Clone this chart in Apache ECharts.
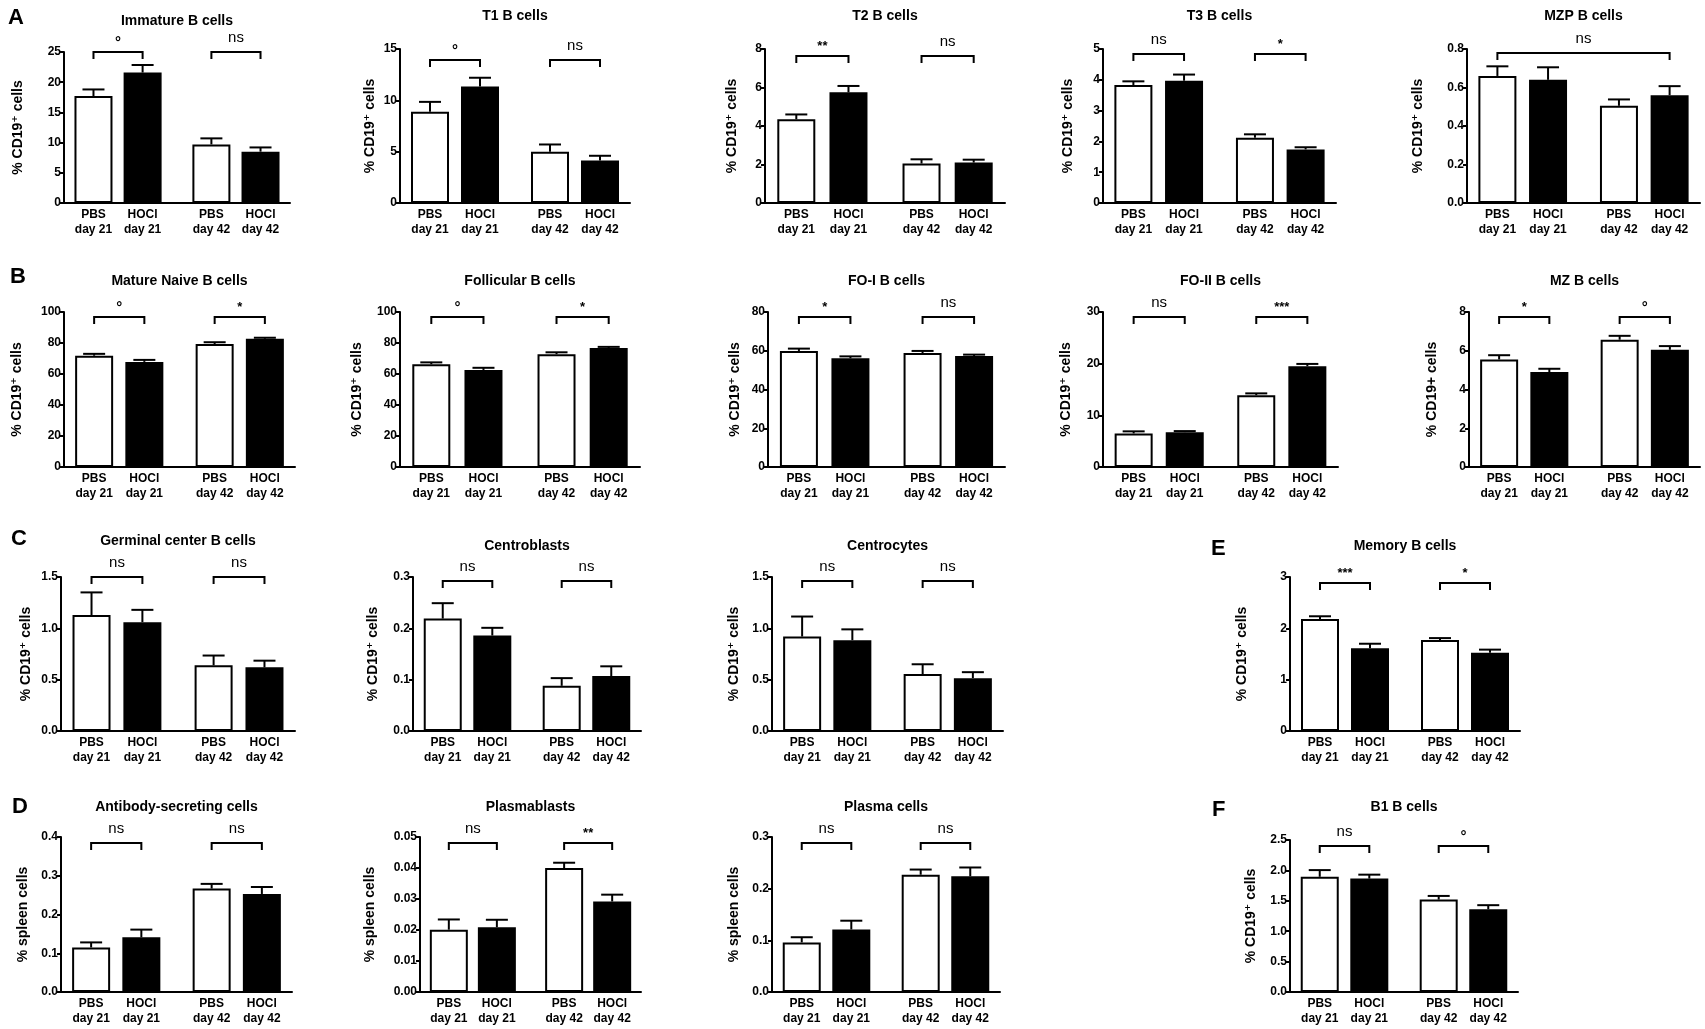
<!DOCTYPE html>
<html><head><meta charset="utf-8">
<script src="https://cdn.jsdelivr.net/npm/echarts@6/dist/echarts.min.js"></script>
<style>html,body{margin:0;padding:0;background:#fff}#c{width:1705px;height:1029px}</style>
</head><body><div id="c"></div>
<script>
// ---------------- DATA ----------------
const categories = ['PBS\nday 21', 'HOCl\nday 21', 'PBS\nday 42', 'HOCl\nday 42'];

const immatureMean = [17.7, 21.6, 9.7, 8.5];
const immatureSem  = [1.1, 1.25, 1.0, 0.7];
const immatureSig  = ['°', 'ns'];

const t1Mean = [8.9, 11.35, 5.0, 4.15];
const t1Sem  = [0.95, 0.85, 0.7, 0.45];
const t1Sig  = ['°', 'ns'];

const t2Mean = [4.35, 5.75, 2.05, 2.1];
const t2Sem  = [0.25, 0.33, 0.22, 0.15];
const t2Sig  = ['**', 'ns'];

const t3Mean = [3.83, 3.97, 2.12, 1.74];
const t3Sem  = [0.12, 0.2, 0.11, 0.07];
const t3Sig  = ['ns', '*'];

const mzpMean = [0.66, 0.64, 0.505, 0.56];
const mzpSem  = [0.05, 0.065, 0.033, 0.047];
const mzpSig  = ['ns'];

const matureMean = [71.8, 67.8, 79.3, 82.7];
const matureSem  = [1.2, 1.3, 1.2, 0.7];
const matureSig  = ['°', '*'];

const follicularMean = [66.3, 62.6, 72.8, 76.7];
const follicularSem  = [1.2, 1.4, 1.2, 0.8];
const follicularSig  = ['°', '*'];

const fo1Mean = [59.9, 56.1, 58.8, 57.3];
const fo1Sem  = [1.2, 1.0, 1.1, 0.7];
const fo1Sig  = ['*', 'ns'];

const fo2Mean = [6.5, 6.75, 13.9, 19.5];
const fo2Sem  = [0.4, 0.2, 0.35, 0.45];
const fo2Sig  = ['ns', '***'];

const mzMean = [5.55, 4.9, 6.57, 6.05];
const mzSem  = [0.22, 0.17, 0.2, 0.19];
const mzSig  = ['*', '°'];

const germinalMean = [1.13, 1.06, 0.64, 0.62];
const germinalSem  = [0.22, 0.12, 0.095, 0.065];
const germinalSig  = ['ns', 'ns'];

const centroblastMean = [0.219, 0.186, 0.088, 0.107];
const centroblastSem  = [0.03, 0.015, 0.015, 0.019];
const centroblastSig  = ['ns', 'ns'];

const centrocyteMean = [0.92, 0.885, 0.555, 0.515];
const centrocyteSem  = [0.195, 0.105, 0.095, 0.058];
const centrocyteSig  = ['ns', 'ns'];

const ascMean = [0.115, 0.141, 0.267, 0.253];
const ascSem  = [0.013, 0.02, 0.012, 0.018];
const ascSig  = ['ns', 'ns'];

const plasmablastMean = [0.0201, 0.0209, 0.0400, 0.0292];
const plasmablastSem  = [0.0033, 0.0024, 0.0017, 0.0022];
const plasmablastSig  = ['ns', '**'];

const plasmaMean = [0.096, 0.121, 0.227, 0.224];
const plasmaSem  = [0.01, 0.017, 0.01, 0.017];
const plasmaSig  = ['ns', 'ns'];

const memoryMean = [2.18, 1.61, 1.775, 1.525];
const memorySem  = [0.055, 0.09, 0.035, 0.06];
const memorySig  = ['***', '*'];

const b1Mean = [1.895, 1.865, 1.52, 1.36];
const b1Sem  = [0.11, 0.065, 0.06, 0.068];
const b1Sig  = ['ns', '°'];

// ---------------- LAYOUT ----------------
const XPOS = [1, 2, 3.4, 4.4];
const FONT = '"Liberation Sans", Arial, "DejaVu Sans", sans-serif';
const CD19 = '% CD19⁺ cells';
const PAIRS2 = [[0, 1], [2, 3]];

const panels = [
  {title:'Immature B cells', m:immatureMean, e:immatureSem, s:immatureSig, L:64, R:290, T:52, B:203, ty:21, yn:CD19, ng:39, max:25, iv:5, dec:0, bo:0, pairs:PAIRS2},
  {title:'T1 B cells', m:t1Mean, e:t1Sem, s:t1Sig, L:400, R:630, T:49, B:203, ty:16, yn:CD19, ng:23, max:15, iv:5, dec:0, bo:11, pairs:PAIRS2},
  {title:'T2 B cells', m:t2Mean, e:t2Sem, s:t2Sig, L:765, R:1005, T:49, B:203, ty:16, yn:CD19, ng:26, max:8, iv:2, dec:0, bo:7, pairs:PAIRS2},
  {title:'T3 B cells', m:t3Mean, e:t3Sem, s:t3Sig, L:1103, R:1336, T:49, B:203, ty:16, yn:CD19, ng:28, max:5, iv:1, dec:0, bo:5, pairs:PAIRS2},
  {title:'MZP B cells', m:mzpMean, e:mzpSem, s:mzpSig, L:1467, R:1700, T:49, B:203, ty:16, yn:CD19, ng:42, max:0.8, iv:0.2, dec:1, bo:4, pairs:[[0, 3]]},

  {title:'Mature Naive B cells', m:matureMean, e:matureSem, s:matureSig, L:64, R:295, T:312, B:467, ty:281, yn:CD19, ng:40, max:100, iv:20, dec:0, bo:5, pairs:PAIRS2},
  {title:'Follicular B cells', m:follicularMean, e:follicularSem, s:follicularSig, L:400, R:640, T:312, B:467, ty:281, yn:CD19, ng:36, max:100, iv:20, dec:0, bo:5, pairs:PAIRS2},
  {title:'FO-I B cells', m:fo1Mean, e:fo1Sem, s:fo1Sig, L:768, R:1005, T:312, B:467, ty:281, yn:CD19, ng:26, max:80, iv:20, dec:0, bo:5, pairs:PAIRS2},
  {title:'FO-II B cells', m:fo2Mean, e:fo2Sem, s:fo2Sig, L:1103, R:1338, T:312, B:467, ty:281, yn:CD19, ng:30, max:30, iv:10, dec:0, bo:5, pairs:PAIRS2},
  {title:'MZ B cells', m:mzMean, e:mzSem, s:mzSig, L:1469, R:1700, T:312, B:467, ty:281, yn:'% CD19+ cells', ng:30, max:8, iv:2, dec:0, bo:5, pairs:PAIRS2},

  {title:'Germinal center B cells', m:germinalMean, e:germinalSem, s:germinalSig, L:61, R:295, T:577, B:731, ty:541, yn:CD19, ng:28, max:1.5, iv:0.5, dec:1, bo:0, pairs:PAIRS2},
  {title:'Centroblasts', m:centroblastMean, e:centroblastSem, s:centroblastSig, L:413, R:641, T:577, B:731, ty:546, yn:CD19, ng:33, max:0.3, iv:0.1, dec:1, bo:4, pairs:PAIRS2},
  {title:'Centrocytes', m:centrocyteMean, e:centrocyteSem, s:centrocyteSig, L:772, R:1003, T:577, B:731, ty:546, yn:CD19, ng:31, max:1.5, iv:0.5, dec:1, bo:4, pairs:PAIRS2},

  {title:'Antibody-secreting cells', m:ascMean, e:ascSem, s:ascSig, L:61, R:292, T:837, B:992, ty:807, yn:'% spleen cells', ng:31, max:0.4, iv:0.1, dec:1, bo:6, pairs:PAIRS2},
  {title:'Plasmablasts', m:plasmablastMean, e:plasmablastSem, s:plasmablastSig, L:420, R:641, T:837, B:992, ty:807, yn:'% spleen cells', ng:43, max:0.05, iv:0.01, dec:2, bo:6, pairs:PAIRS2},
  {title:'Plasma cells', m:plasmaMean, e:plasmaSem, s:plasmaSig, L:772, R:1000, T:837, B:992, ty:807, yn:'% spleen cells', ng:31, max:0.3, iv:0.1, dec:1, bo:6, pairs:PAIRS2},

  {title:'Memory B cells', m:memoryMean, e:memorySem, s:memorySig, L:1290, R:1520, T:577, B:731, ty:546, yn:CD19, ng:41, max:3, iv:1, dec:0, bo:6, pairs:PAIRS2},
  {title:'B1 B cells', m:b1Mean, e:b1Sem, s:b1Sig, L:1290, R:1518, T:840, B:992, ty:807, yn:CD19, ng:32, max:2.5, iv:0.5, dec:1, bo:6, pairs:PAIRS2}
];

const letters = [
  {t:'A', x:8, y:18}, {t:'B', x:10, y:277}, {t:'C', x:11, y:539},
  {t:'D', x:12, y:807}, {t:'E', x:1211, y:549}, {t:'F', x:1212, y:810}
];

// ---------------- BUILD ----------------
const grid = [], xAxis = [], yAxis = [], series = [], graphic = [];

function txt(text, x, y, font, align, valign) {
  return {type:'text', x:x, y:y, style:{text:text, font:font, fill:'#000',
    textAlign:align, align:align, textVerticalAlign:valign, verticalAlign:valign}};
}

panels.forEach((p, i) => {
  grid.push({left:p.L, top:p.T, width:p.R - p.L, height:p.B - p.T, containLabel:false});
  xAxis.push({
    type:'value', gridIndex:i, min:0.4, max:5.0,
    axisLine:{show:true, onZero:false, lineStyle:{color:'#000', width:2}},
    axisTick:{show:false}, splitLine:{show:false},
    axisLabel:{show:true, customValues:XPOS, margin:4,
      formatter:(v) => { const k = XPOS.findIndex(q => Math.abs(q - v) < 1e-6); return k >= 0 ? categories[k] : ''; },
      fontFamily:FONT, fontWeight:'bold', fontSize:12, lineHeight:15, color:'#000'}
  });
  yAxis.push({
    type:'value', gridIndex:i, min:0, max:p.max, interval:p.iv,
    axisLine:{show:true, lineStyle:{color:'#000', width:2}},
    axisTick:{show:true, length:4, lineStyle:{color:'#000', width:2}},
    splitLine:{show:false},
    axisLabel:{formatter:(v) => v.toFixed(p.dec), fontFamily:FONT, fontWeight:'bold', fontSize:12, color:'#000', margin:3},
    name:p.yn, nameLocation:'middle', nameGap:p.ng, nameRotate:90,
    nameTextStyle:{fontFamily:FONT, fontWeight:'bold', fontSize:14, color:'#000'}
  });
  series.push({
    type:'bar', xAxisIndex:i, yAxisIndex:i, barWidth:38, silent:true,
    data:p.m.map((v, k) => ({value:[XPOS[k], v],
      itemStyle:{color:(k % 2) ? '#000' : '#fff', borderColor:'#000', borderWidth:2}}))
  });
  series.push({
    type:'custom', xAxisIndex:i, yAxisIndex:i, z:3, silent:true, clip:false,
    data:p.m.map((v, k) => [XPOS[k], v, v + p.e[k]]),
    renderItem:(params, api) => {
      const a = api.coord([api.value(0), api.value(1)]);
      const b = api.coord([api.value(0), api.value(2)]);
      return {type:'group', children:[
        {type:'line', shape:{x1:a[0], y1:a[1], x2:b[0], y2:b[1]}, style:{stroke:'#000', lineWidth:2}},
        {type:'line', shape:{x1:b[0] - 11, y1:b[1], x2:b[0] + 11, y2:b[1]}, style:{stroke:'#000', lineWidth:2}}
      ]};
    }
  });
  series.push({
    type:'custom', xAxisIndex:i, yAxisIndex:i, z:4, silent:true, clip:false,
    data:p.pairs.map(pr => [XPOS[pr[0]], XPOS[pr[1]]]),
    encode:{x:[0, 1]},
    renderItem:(params, api) => {
      const x1 = api.coord([api.value(0), 0])[0];
      const x2 = api.coord([api.value(1), 0])[0];
      const y = params.coordSys.y + p.bo;
      const sig = p.s[params.dataIndex];
      let font, ty;
      if (sig === 'ns') { font = '15px ' + FONT; ty = y - 14; }
      else if (sig === '°') { font = 'bold 15px ' + FONT; ty = y - 9; }
      else { font = 'bold 13px ' + FONT; ty = y - 10; }
      return {type:'group', children:[
        {type:'polyline', shape:{points:[[x1, y + 7], [x1, y], [x2, y], [x2, y + 7]]},
          style:{stroke:'#000', lineWidth:2, fill:null}},
        txt(sig, (x1 + x2) / 2, ty, font, 'center', 'middle')
      ]};
    }
  });
  graphic.push(txt(p.title, (p.L + p.R) / 2, p.ty, 'bold 14px ' + FONT, 'center', 'middle'));
});

letters.forEach(l => graphic.push(txt(l.t, l.x, l.y, 'bold 22px ' + FONT, 'left', 'middle')));

const chart = echarts.init(document.getElementById('c'), null, {renderer:'canvas'});
chart.setOption({
  backgroundColor:'#fff', animation:false,
  grid:grid, xAxis:xAxis, yAxis:yAxis, series:series, graphic:graphic
});
</script></body></html>
